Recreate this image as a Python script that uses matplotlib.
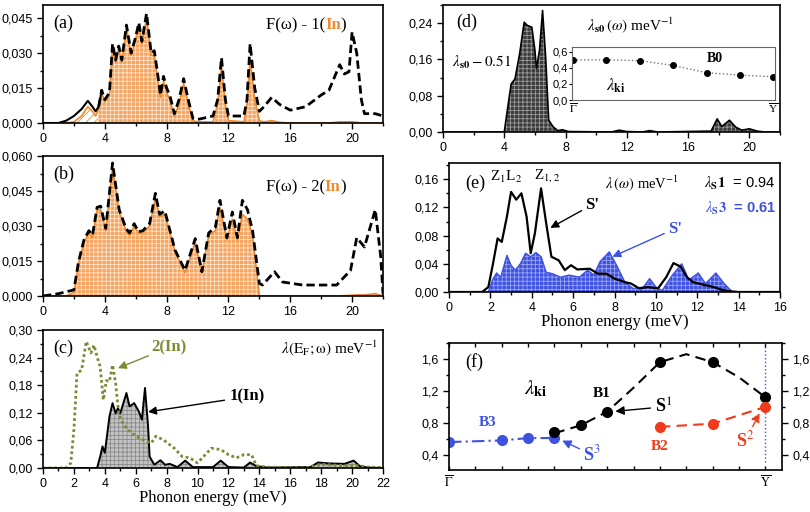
import numpy as np
import matplotlib
matplotlib.use('Agg')
import matplotlib.pyplot as plt
from matplotlib.ticker import MultipleLocator, FuncFormatter, FixedLocator

plt.rcParams['font.family'] = ['Liberation Sans', 'DejaVu Sans']
plt.rcParams['mathtext.fontset'] = 'stix'
plt.rcParams['hatch.linewidth'] = 0.6

SERIF = ['Liberation Serif', 'DejaVu Serif']
ORANGE = '#f08a2c'
ORFILL = '#f6a462'
BLUE = '#3f51e0'
RED = '#f03a1c'
OLIVE = '#7b8a34'

# ---- data ----
# (a) F(w) total and In-1 partial
xa = [0, 1.0, 1.5, 2.0, 2.5, 2.9, 3.2, 3.4, 3.6, 3.8,
      4.0, 4.3, 4.5, 4.7, 4.9, 5.1, 5.4, 5.7, 6.0, 6.2,
      6.4, 6.7, 7.0, 7.2, 7.4, 7.6, 7.8, 8.0, 8.2, 8.5,
      8.8, 9.1, 9.4, 9.7, 10.0, 11.0, 11.3, 11.55, 11.8, 12.0,
      13.0, 13.2, 13.4, 13.7, 14.0, 14.3, 14.8, 15.3, 16.0, 17.0,
      18.0, 18.5, 19.2, 19.5, 19.8, 20.0, 20.3, 20.6, 20.8, 21.5, 22]
fa_tot = [0, 0, 0.001, 0.003, 0.006, 0.0095, 0.007, 0.005, 0.007, 0.014,
          0.010, 0.013, 0.034, 0.027, 0.033, 0.027, 0.042, 0.030, 0.037, 0.043,
          0.035, 0.047, 0.030, 0.031, 0.022, 0.012, 0.020, 0.015, 0.012, 0.004,
          0.010, 0.019, 0.010, 0.002, 0.0015, 0.003, 0.010, 0.028, 0.010, 0.003,
          0.003, 0.010, 0.034, 0.015, 0.005, 0.007, 0.011, 0.008, 0.0055, 0.007,
          0.012, 0.014, 0.025, 0.021, 0.022, 0.039, 0.030, 0.010, 0.004, 0.004, 0.003]
fa_in = [0, 0, 0, 0.0005, 0.003, 0.007, 0.005, 0.003, 0.006, 0.013,
         0.009, 0.012, 0.033, 0.026, 0.032, 0.026, 0.041, 0.029, 0.036, 0.042,
         0.034, 0.045, 0.029, 0.029, 0.020, 0.011, 0.018, 0.013, 0.010, 0.003,
         0.008, 0.017, 0.008, 0.001, 0.0005, 0.0005, 0.008, 0.024, 0.008, 0.001,
         0.0005, 0.008, 0.027, 0.010, 0.001, 0.0005, 0.001, 0.0003, 0, 0,
         0, 0, 0.0005, 0.0005, 0.0005, 0.0005, 0.0003, 0, 0, 0, 0]

# (b) F(w) total and In-2 partial
xb = [0, 0.5, 1.0, 1.5, 2.0, 2.3, 2.65, 2.97, 3.2, 3.5,
      3.73, 4.06, 4.5, 4.93, 5.37, 5.6, 5.9, 6.18, 6.46, 6.9,
      7.27, 7.55, 7.88, 8.1, 8.54, 9.19, 9.85, 10.28, 10.72, 11.16,
      11.45, 11.9, 12.25, 12.58, 12.9, 13.23, 13.56, 14.0, 14.2, 14.98,
      15.5, 16.8, 19.0, 19.9, 20.3, 20.8, 21.5, 21.85, 22.0]
fb_tot = [0, 0.0005, 0.001, 0.0018, 0.0026, 0.0147, 0.024, 0.028, 0.026, 0.038,
          0.0385, 0.029, 0.057, 0.037, 0.029, 0.027, 0.031, 0.0275, 0.028, 0.031,
          0.044, 0.035, 0.0365, 0.031, 0.0197, 0.011, 0.0246, 0.0104, 0.027, 0.0296,
          0.041, 0.025, 0.036, 0.025, 0.041, 0.037, 0.028, 0.0054, 0.0047, 0.0104,
          0.006, 0.0047, 0.0047, 0.011, 0.025, 0.021, 0.037, 0.017, 0.001]
fb_in = [0, 0, 0, 0, 0.0015, 0.014, 0.023, 0.027, 0.025, 0.037,
         0.037, 0.028, 0.055, 0.036, 0.028, 0.026, 0.030, 0.027, 0.027, 0.030,
         0.042, 0.034, 0.035, 0.030, 0.019, 0.010, 0.023, 0.010, 0.026, 0.028,
         0.038, 0.024, 0.033, 0.024, 0.035, 0.033, 0.026, 0.0, 0, 0,
         0, 0, 0, 0.0003, 0.0005, 0.0005, 0.001, 0.0003, 0]

# (c) lambda(EF; w) for 2(In) and 1(In)
xc2 = [0, 1.5, 1.8, 2.0, 2.2, 2.5, 2.8, 3.1, 3.3, 3.5,
       3.7, 3.9, 4.1, 4.3, 4.5, 4.7, 4.9, 5.2, 5.5, 6.0,
       6.5, 7.0, 7.3, 7.8, 8.5, 9.0, 9.5, 10.0, 10.5, 10.9,
       11.5, 12.0, 12.5, 13.0, 13.5, 13.8, 14.5, 17.0, 18.0, 19.5,
       20.5, 21.0, 22.0]
lam2 = [0, 0, 0.011, 0.083, 0.206, 0.213, 0.275, 0.25, 0.267, 0.242,
        0.22, 0.148, 0.19, 0.188, 0.224, 0.184, 0.119, 0.094, 0.083, 0.069,
        0.061, 0.054, 0.069, 0.061, 0.043, 0.025, 0.022, 0.011, 0.029, 0.043,
        0.040, 0.029, 0.022, 0.029, 0.029, 0.005, 0.002, 0.0, 0.008, 0.005,
        0.005, 0.002, 0.001]
xc1 = [0, 3.5, 3.7, 3.85, 4.0, 4.3, 4.5, 4.7, 4.85, 5.0,
       5.4, 5.6, 5.9, 6.2, 6.4, 6.6, 6.8, 6.9, 7.2, 7.6,
       7.9, 8.2, 8.7, 9.2, 9.7, 11.0, 11.5, 12.0, 13.0, 13.4,
       13.8, 14.5, 17.3, 17.8, 18.5, 19.5, 20.1, 20.5, 21.0, 22.0]
lam1 = [0, 0, 0.025, 0.047, 0.033, 0.112, 0.141, 0.119, 0.130, 0.119,
        0.163, 0.134, 0.141, 0.123, 0.105, 0.174, 0.090, 0.025, 0.007, 0.017,
        0.007, 0.009, 0.002, 0.016, 0.002, 0.002, 0.016, 0.002, 0.001, 0.012,
        0.004, 0.001, 0.002, 0.012, 0.010, 0.009, 0.016, 0.004, 0.001, 0]

# (d) lambda_S0(w) and inset B0
xd = [0, 4.0, 4.2, 4.45, 4.7, 5.0, 5.3, 5.5, 5.8, 6.0,
      6.1, 6.3, 6.5, 6.7, 6.9, 7.2, 7.5, 7.8, 8.2, 11.0,
      11.5, 12.0, 13.0, 13.5, 14.0, 17.5, 17.9, 18.2, 18.7, 19.1,
      19.5, 20.0, 20.5, 21.0, 22.0]
lam0 = [0, 0, 0.048, 0.106, 0.117, 0.172, 0.242, 0.235, 0.231, 0.18,
        0.14, 0.18, 0.268, 0.165, 0.026, 0.011, 0.003, 0.005, 0.001, 0.0,
        0.004, 0.001, 0.0, 0.003, 0.0, 0.002, 0.029, 0.012, 0.026, 0.011,
        0.004, 0.007, 0.002, 0, 0]
k0 = [0, 1, 2, 3, 4, 5, 6]
lam_b0 = [0.50, 0.50, 0.49, 0.43, 0.34, 0.31, 0.29]

# (e) lambda(w) for S1 and S3
xe1 = [0, 1.6, 1.9, 2.1, 2.35, 2.55, 2.8, 3.0, 3.25, 3.5,
       3.75, 3.95, 4.15, 4.45, 4.7, 4.95, 5.3, 5.6, 5.9, 6.2,
       6.8, 7.2, 7.6, 8.0, 8.5, 8.8, 9.2, 9.6, 10.1, 10.5,
       10.85, 11.2, 11.5, 11.8, 12.2, 12.8, 13.2, 13.6, 14.0, 16.0]
lamS1 = [0, 0, 0.007, 0.036, 0.076, 0.071, 0.107, 0.142, 0.131, 0.140,
         0.107, 0.055, 0.083, 0.147, 0.097, 0.050, 0.045, 0.031, 0.038, 0.032,
         0.033, 0.026, 0.026, 0.019, 0.014, 0.012, 0.005, 0.007, 0.005, 0.021,
         0.041, 0.036, 0.021, 0.014, 0.011, 0.007, 0.003, 0.001, 0, 0]
xe3 = [0, 1.9, 2.1, 2.3, 2.5, 2.8, 3.0, 3.2, 3.45, 3.7,
       3.95, 4.2, 4.45, 4.7, 5.0, 5.4, 5.8, 6.3, 6.7, 7.0,
       7.3, 7.75, 8.1, 8.5, 8.9, 9.4, 9.7, 10.0, 10.3, 10.8,
       11.25, 11.6, 12.05, 12.4, 12.9, 13.3, 13.7, 16.0]
lamS3 = [0, 0, 0.017, 0.027, 0.021, 0.052, 0.038, 0.031, 0.040, 0.055,
         0.050, 0.056, 0.050, 0.028, 0.026, 0.021, 0.024, 0.021, 0.031, 0.024,
         0.043, 0.057, 0.038, 0.014, 0.005, 0.007, 0.019, 0.007, 0.002, 0.024,
         0.040, 0.017, 0.027, 0.012, 0.027, 0.012, 0, 0]

# (f) lambda_ki along Gamma-Y
kB3 = [0, 2, 3, 4]
lamB3 = [0.56, 0.58, 0.61, 0.61]
kB1 = [4, 5, 6, 8, 10, 12]
lamB1 = [0.69, 0.77, 0.94, 1.56, 1.56, 1.12]
kB1_line = [4, 5, 6, 7, 8, 9, 10, 11, 12]
lamB1_line = [0.67, 0.77, 0.94, 1.24, 1.56, 1.66, 1.56, 1.37, 1.12]
kB2 = [8, 10, 12]
lamB2 = [0.75, 0.79, 1.00]


def comma(dec):
    return FuncFormatter(lambda v, p: f'{v:.{dec}f}'.replace('.', ','))


def px_axes(fig, l, t, r, b):
    return fig.add_axes([l / 810, 1 - b / 512, (r - l) / 810, (b - t) / 512])


def style(ax):
    ax.tick_params(which='both', direction='out', labelsize=9, width=1)
    ax.tick_params(which='major', length=4)
    ax.tick_params(which='minor', length=2)
    for s in ax.spines.values():
        s.set_linewidth(1.2)


def rich(ax, x, y, parts, size=12):
    t = ax.text(x, y, parts[0][0], color=parts[0][1], fontweight=parts[0][2],
                family=SERIF, fontsize=size, transform=ax.transAxes, va='bottom')
    for s, c, w in parts[1:]:
        t = ax.annotate(s, xy=(1, 0), xycoords=t, va='bottom', color=c,
                        fontweight=w, family=SERIF, fontsize=size)


fig = plt.figure(figsize=(8.1, 5.12), dpi=100)

# ---------------- (a) ----------------
ax = px_axes(fig, 43, 5, 383, 123)
xa_ = np.array(xa); fi = np.array(fa_in)
lo = xa_ <= 3.6
hi = xa_ >= 3.6
ax.fill_between(xa_[lo], 0, fi[lo], facecolor='white', edgecolor=ORANGE, hatch='////', lw=0)
ax.fill_between(xa_[hi], 0, fi[hi], facecolor=ORFILL, edgecolor='#fde3c8', hatch='++++', lw=0)
ax.plot(xa, fa_in, color=ORANGE, lw=1.2)
ax.plot(xa_[xa_ <= 3.8], np.array(fa_tot)[xa_ <= 3.8], color='k', lw=1.5)
ax.plot(xa_[hi], np.array(fa_tot)[hi], color='k', lw=2, ls=(0, (3, 1.5)))
ax.set_xlim(0, 22); ax.set_ylim(0, 0.0506)
ax.xaxis.set_major_locator(MultipleLocator(4)); ax.xaxis.set_minor_locator(MultipleLocator(2))
ax.yaxis.set_major_locator(MultipleLocator(0.015)); ax.yaxis.set_minor_locator(MultipleLocator(0.0075))
ax.yaxis.set_major_formatter(comma(3))
style(ax)
ax.text(0.03, 0.92, '(a)', transform=ax.transAxes, family=SERIF, fontsize=13, va='top')
rich(ax, 0.655, 0.76, [('F(ω) - 1(', 'k', 'normal'), ('In', ORANGE, 'bold'), (')', 'k', 'normal')])

# ---------------- (b) ----------------
ax = px_axes(fig, 43, 156, 383, 296)
ax.fill_between(xb, 0, fb_in, facecolor=ORFILL, edgecolor='#fde3c8', hatch='++++', lw=0)
ax.plot(xb, fb_in, color=ORANGE, lw=1.2)
ax.plot(xb, fb_tot, color='k', lw=2, ls=(0, (3, 1.5)))
ax.set_xlim(0, 22); ax.set_ylim(0, 0.060)
ax.xaxis.set_major_locator(MultipleLocator(4)); ax.xaxis.set_minor_locator(MultipleLocator(2))
ax.yaxis.set_major_locator(MultipleLocator(0.015)); ax.yaxis.set_minor_locator(MultipleLocator(0.0075))
ax.yaxis.set_major_formatter(comma(3))
style(ax)
ax.text(0.03, 0.93, '(b)', transform=ax.transAxes, family=SERIF, fontsize=13, va='top')
rich(ax, 0.655, 0.72, [('F(ω) - 2(', 'k', 'normal'), ('In', ORANGE, 'bold'), (')', 'k', 'normal')])

# ---------------- (c) ----------------
ax = px_axes(fig, 43, 330, 383, 468)
ax.fill_between(xc1, 0, lam1, facecolor='#c4c4c4', edgecolor='#8a8a8a', hatch='++++', lw=0)
ax.plot(xc1, lam1, color='k', lw=1.4)
ax.plot(xc2, lam2, color=OLIVE, lw=2, ls=(0, (1, 1)))
ax.set_xlim(0, 22); ax.set_ylim(0, 0.30)
ax.xaxis.set_major_locator(MultipleLocator(2)); ax.xaxis.set_minor_locator(MultipleLocator(1))
ax.yaxis.set_major_locator(MultipleLocator(0.06)); ax.yaxis.set_minor_locator(MultipleLocator(0.03))
ax.yaxis.set_major_formatter(comma(2))
style(ax)
ax.set_xlabel('Phonon energy (meV)', family=SERIF, fontsize=12, labelpad=0)
ax.text(0.03, 0.93, '(c)', transform=ax.transAxes, family=SERIF, fontsize=13, va='top')
ax.annotate('2(In)', xy=(4.85, 0.217), xytext=(7.0, 0.262), color=OLIVE, family=SERIF,
            fontsize=12, fontweight='bold', va='center',
            arrowprops=dict(arrowstyle='-|>', color=OLIVE, lw=1, shrinkA=0, shrinkB=0))
ax.annotate('1(In)', xy=(6.8, 0.122), xytext=(12.1, 0.155), color='k', family=SERIF,
            fontsize=12, fontweight='bold', va='center',
            arrowprops=dict(arrowstyle='-|>', color='k', lw=1, shrinkA=2, shrinkB=0))
ax.text(0.985, 0.87, r'$\lambda(\mathrm{E_F;\omega})$ meV$^{-1}$', transform=ax.transAxes,
        family=SERIF, fontsize=11, va='center', ha='right')

# ---------------- (d) ----------------
ax = px_axes(fig, 443, 5, 780, 132)
ax.fill_between(xd, 0, lam0, facecolor='#3c3c3c', edgecolor='#9a9a9a', hatch='++++', lw=0)
ax.plot(xd, lam0, color='k', lw=1.2)
ax.set_xlim(0, 22); ax.set_ylim(0, 0.28)
ax.xaxis.set_major_locator(MultipleLocator(4)); ax.xaxis.set_minor_locator(MultipleLocator(2))
ax.yaxis.set_major_locator(MultipleLocator(0.08)); ax.yaxis.set_minor_locator(MultipleLocator(0.04))
ax.yaxis.set_major_formatter(comma(2))
style(ax)
ax.text(0.04, 0.93, '(d)', transform=ax.transAxes, family=SERIF, fontsize=13, va='top')
ax.text(9.4, 0.236, r'$\lambda_{\mathbf{s0}}\,(\omega)$ meV$^{-1}$', family=SERIF, fontsize=11,
        va='center')
ax.text(0.6, 0.154, r'$\lambda_{\mathbf{s0}} - 0.51$', family=SERIF, fontsize=11, va='center')

ins = px_axes(fig, 572, 47, 775, 100)
ins.plot(k0, lam_b0, color='#777777', lw=1, ls=':', marker='o', ms=4, mfc='k', mec='k')
ins.set_xlim(-0.03, 6.05); ins.set_ylim(0, 0.66)
ins.yaxis.set_major_locator(MultipleLocator(0.2))
ins.yaxis.set_major_formatter(comma(1))
ins.xaxis.set_major_locator(FixedLocator([0, 6]))
ins.set_xticklabels([r'$\overline{\Gamma}$', r'$\overline{\mathrm{Y}}$'], fontsize=10)
ins.tick_params(labelsize=8, length=2, pad=1)
ins.tick_params(axis='x', length=0)
for s in ins.spines.values():
    s.set_linewidth(0.8); s.set_color('#666666')
ins.text(4.0, 0.47, 'B0', family=SERIF, fontsize=10, fontweight='bold')
ins.text(1.0, 0.12, r'$\lambda_{\mathbf{ki}}$', family=SERIF, fontsize=12)

# ---------------- (e) ----------------
ax = px_axes(fig, 449, 163, 780, 292)
ax.fill_between(xe3, 0, lamS3, facecolor=BLUE, edgecolor='#9aa6f2', hatch='++++', lw=0)
ax.plot(xe3, lamS3, color=BLUE, lw=1)
ax.plot(xe1, lamS1, color='k', lw=1.6)
ax.set_xlim(0, 16); ax.set_ylim(0, 0.183)
ax.xaxis.set_major_locator(MultipleLocator(2)); ax.xaxis.set_minor_locator(MultipleLocator(1))
ax.yaxis.set_major_locator(MultipleLocator(0.04)); ax.yaxis.set_minor_locator(MultipleLocator(0.02))
ax.yaxis.set_major_formatter(comma(2))
style(ax)
ax.set_xlabel('Phonon energy (meV)', family=SERIF, fontsize=12, labelpad=0)
ax.text(0.05, 0.91, '(e)', transform=ax.transAxes, family=SERIF, fontsize=13, va='top')
ax.text(2.75, 0.163, r'Z$_1$L$_2$', family=SERIF, fontsize=11, ha='center', va='center')
ax.text(4.75, 0.165, r'Z$_{1,2}$', family=SERIF, fontsize=11, ha='center', va='center')
ax.text(9.3, 0.154, r'$\lambda\,(\omega)$ meV$^{-1}$', family=SERIF, fontsize=10.5,
        ha='center', va='center')
ax.text(15.8, 0.154, r'$\lambda_{\mathbf{S}}\mathbf{1}$  = 0.94', fontsize=10.5,
        ha='right', va='center')
ax.text(15.8, 0.118, r'$\lambda_{\mathbf{S}}\mathbf{3}$  = 0.61', fontsize=10.5, color=BLUE,
        fontweight='bold', ha='right', va='center')
ax.annotate("S'", xy=(4.9, 0.091), xytext=(6.6, 0.124), family=SERIF, fontsize=12,
            fontweight='bold', va='center',
            arrowprops=dict(arrowstyle='-|>', color='k', lw=1, shrinkA=1, shrinkB=0))
ax.annotate("S'", xy=(7.9, 0.050), xytext=(10.6, 0.090), family=SERIF, fontsize=12,
            fontweight='bold', color=BLUE, va='center',
            arrowprops=dict(arrowstyle='-|>', color=BLUE, lw=1, shrinkA=1, shrinkB=0))

# ---------------- (f) ----------------
ax = px_axes(fig, 449, 343, 782, 470)
ax.axvline(12, ymin=0.06, color=BLUE, lw=1, ls=':')
ax.plot(kB3, lamB3, color=BLUE, lw=1.5, ls=(0, (6, 2, 1, 2)))
ax.plot(kB3, lamB3, 'o', color=BLUE, ms=7)
ax.plot(kB1_line, lamB1_line, color='k', lw=1.5, ls=(0, (5, 3)))
ax.plot(kB1, lamB1, 'o', color='k', ms=7)
ax.plot(kB2, lamB2, color=RED, lw=1.5, ls=(0, (5, 3)))
ax.plot(kB2, lamB2, 'o', color=RED, ms=7)
ax.set_xlim(0, 12.63); ax.set_ylim(0.21, 1.8)
ax.xaxis.set_major_locator(FixedLocator([0, 12]))
ax.set_xticklabels([r'$\overline{\Gamma}$', r'$\overline{\mathrm{Y}}$'], fontsize=13)
ax.xaxis.set_minor_locator(MultipleLocator(1))
ax.yaxis.set_major_locator(MultipleLocator(0.4)); ax.yaxis.set_minor_locator(MultipleLocator(0.2))
ax.yaxis.set_major_formatter(comma(1))
style(ax)
ax.tick_params(axis='x', which='both', direction='in', top=True, length=3)
ax.tick_params(axis='y', which='both', right=True, labelright=True)
ax.text(0.6, 1.56, '(f)', family=SERIF, fontsize=13, va='center')
ax.text(3.3, 1.22, r'$\lambda_{\mathbf{ki}}$', family=SERIF, fontsize=15, ha='center', va='center')
ax.text(5.8, 1.17, 'B1', family=SERIF, fontsize=11, fontweight='bold', ha='center', va='center')
ax.text(1.45, 0.80, 'B3', family=SERIF, fontsize=11, fontweight='bold', color=BLUE,
        ha='center', va='center')
ax.text(8.0, 0.50, 'B2', family=SERIF, fontsize=11, fontweight='bold', color=RED,
        ha='center', va='center')
ax.annotate(r'S$^1$', xy=(6.15, 0.94), xytext=(7.8, 1.0), family=SERIF, fontsize=13,
            fontweight='bold', va='center',
            arrowprops=dict(arrowstyle='-|>', color='k', lw=1, shrinkA=1, shrinkB=3))
ax.annotate(r'S$^3$', xy=(4.15, 0.6), xytext=(5.1, 0.40), family=SERIF, fontsize=13,
            fontweight='bold', color=BLUE, va='center',
            arrowprops=dict(arrowstyle='-|>', color=BLUE, lw=1, shrinkA=1, shrinkB=3))
ax.annotate(r'S$^2$', xy=(11.85, 0.97), xytext=(10.9, 0.58), family=SERIF, fontsize=13,
            fontweight='bold', color=RED, va='center',
            arrowprops=dict(arrowstyle='-|>', color=RED, lw=1, ls='--', shrinkA=1, shrinkB=3))

fig.savefig('out.png', dpi=100)
